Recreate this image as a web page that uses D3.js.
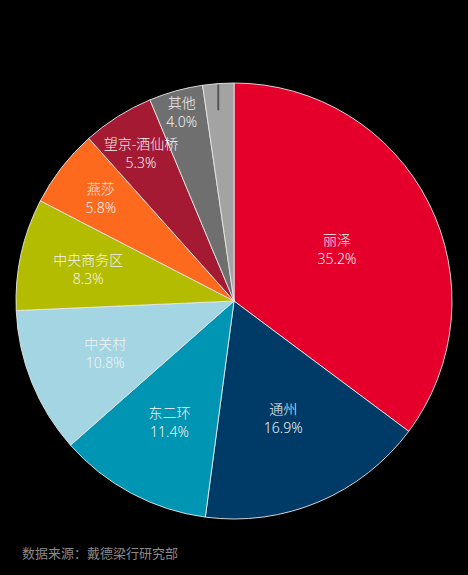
<!DOCTYPE html>
<html>
<head>
	<meta charset="utf-8">
	<title>北京写字楼分布</title>
	<script src="https://d3js.org/d3.v7.min.js" charset="utf-8"></script>
	<style>
		html, body { margin: 0; padding: 0; background: #000; }
		svg { display: block; }
	</style>
</head>
<body>
	<div id="chart"></div>
	<script>
		var w = 468;
		var h = 575;

		// chart data, clockwise from 12 o'clock
		var names = ["丽泽", "通州", "东二环", "中关村", "中央商务区", "燕莎", "望京-酒仙桥", "其他", ""];
		var shares = [35.2, 16.9, 11.4, 10.8, 8.3, 5.8, 5.3, 4.0, 2.3];
		var colors = ["#e4002b", "#003a67", "#0095b3", "#a4d5e2", "#b4bc00", "#fd6a1e", "#a51a33", "#6f6f70", "#a3a3a3"];
		var source = "数据来源：戴德梁行研究部";

		var cx = 234, cy = 301, R = 218;

		var svg = d3.select("#chart")
			.append("svg")
			.attr("width", w)
			.attr("height", h)
			.attr("xmlns", "http://www.w3.org/2000/svg");

		svg.append("rect")
			.attr("width", w)
			.attr("height", h)
			.attr("fill", "#000");

		var pie = d3.pie().sort(null).value(function(d) { return d; });
		var arcs = pie(shares);
		var arc = d3.arc().innerRadius(0).outerRadius(R);

		var g = svg.append("g").attr("transform", "translate(" + cx + "," + cy + ")");

		// slices
		g.selectAll(".slice").data(arcs)
			.enter().append("path")
			.attr("class", "slice")
			.attr("d", arc)
			.attr("fill", function(d, i) { return colors[i]; })
			.attr("stroke", "#e8e8e8")
			.attr("stroke-width", 0.9);

		// little tick inside the last (unlabelled) slice
		var last = arcs[arcs.length - 1];
		var lastMid = (last.startAngle + last.endAngle) / 2;
		var tx = R * Math.sin(lastMid);
		g.append("line")
			.attr("x1", tx)
			.attr("x2", tx)
			.attr("y1", -Math.sqrt(R * R - tx * tx) + 1)
			.attr("y2", -R * 0.875)
			.attr("stroke", "#555")
			.attr("stroke-width", 2);

		// labels: small slices get pushed further out
		function labelPos(d) {
			var a = (d.startAngle + d.endAngle) / 2;
			var r = R * Math.min(0.9, 0.48 + 1.7 / d.value);
			return [r * Math.sin(a), -r * Math.cos(a)];
		}

		var labels = g.selectAll(".label").data(arcs.filter(function(d, i) { return names[i] !== ""; }))
			.enter().append("g")
			.attr("class", "label")
			.attr("transform", function(d) { return "translate(" + labelPos(d) + ")"; })
			.attr("fill", "#f2f2f2")
			.attr("text-anchor", "middle")
			.style("font-family", "'Noto Sans', 'Noto Sans CJK SC', sans-serif")
			.style("font-weight", 300);

		labels.append("text")
			.attr("y", -9.5)
			.attr("dominant-baseline", "central")
			.style("font-size", "14px")
			.text(function(d) { return names[d.index]; });

		labels.append("text")
			.attr("y", 9.5)
			.attr("dominant-baseline", "central")
			.style("font-size", "14px")
			.text(function(d) { return d.value.toFixed(1) + "%"; });

		// source note
		svg.append("text")
			.attr("x", 22)
			.attr("y", 552)
			.attr("dominant-baseline", "central")
			.attr("fill", "#8a8a8a")
			.style("font-family", "'Noto Sans CJK SC', sans-serif")
			.style("font-size", "13px")
			.text(source);
	</script>
</body>
</html>
